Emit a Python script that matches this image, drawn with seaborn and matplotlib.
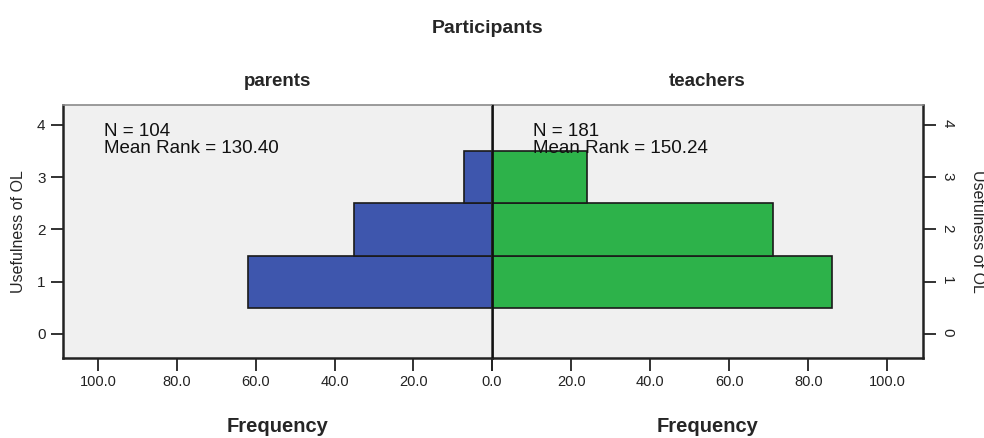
import matplotlib.pyplot as plt
import pandas as pd
import seaborn as sns

# dados (piramide do SPSS)
usefulness = [1, 2, 3]
parents_freq = [62, 35, 7]
teachers_freq = [86, 71, 24]
groups = ['parents', 'teachers']
n_values = [104, 181]
mean_ranks = [130.40, 150.24]
x_ticks = [0, 20, 40, 60, 80, 100]
y_ticks = [0, 1, 2, 3, 4]

df_par = pd.DataFrame({'Usefulness of OL': usefulness, 'Frequency': parents_freq})
df_tea = pd.DataFrame({'Usefulness of OL': usefulness, 'Frequency': teachers_freq})

sns.set_style('white')
plt.rcParams['font.family'] = ['Liberation Sans', 'DejaVu Sans']

blue = '#3e56ad'
green = '#2db24a'
bg = '#f0f0f0'

fig = plt.figure(figsize=(9.84, 4.38), dpi=100)
ax1 = fig.add_axes([0.064, 0.183, 0.436, 0.577])
ax2 = fig.add_axes([0.5, 0.183, 0.438, 0.577])

sns.barplot(data=df_par, x='Frequency', y='Usefulness of OL', orient='h',
            native_scale=True, width=1, color=blue, saturation=1,
            edgecolor='#1a1a1a', linewidth=1.2, ax=ax1)
sns.barplot(data=df_tea, x='Frequency', y='Usefulness of OL', orient='h',
            native_scale=True, width=1, color=green, saturation=1,
            edgecolor='#1a1a1a', linewidth=1.2, ax=ax2)

for ax in (ax1, ax2):
    ax.set_facecolor(bg)
    ax.set_ylim(-0.46, 4.38)
    ax.set_yticks(y_ticks)
    ax.set_xticks(x_ticks)
    ax.tick_params(bottom=True, length=9, width=1.3, color='#222222')
    ax.set_xlabel('Frequency', fontsize=14.5, fontweight='bold', labelpad=20)
    for s in ax.spines.values():
        s.set_color('#222222')
        s.set_linewidth(1.8)
    ax.spines['top'].set_color('#8a8a8a')
    ax.spines['top'].set_linewidth(1.2)

ax1.set_xticklabels(['%.1f' % t for t in x_ticks], fontsize=10.5, color='#222222')
ax2.set_xticklabels([''] + ['%.1f' % t for t in x_ticks[1:]], fontsize=10.5, color='#222222')

# lado esquerdo (pais)
ax1.set_xlim(109, 0)
ax1.tick_params(axis='y', left=True, labelsize=11, labelcolor='#222222')
ax1.set_ylabel('Usefulness of OL', fontsize=11.5, labelpad=8)
ax1.set_title('parents', fontsize=13.5, fontweight='bold', pad=14)

# lado direito (professores)
ax2.set_xlim(0, 109)
ax2.spines['left'].set_visible(False)
ax2.axvline(0, color='#111111', lw=2, zorder=5)
ax2.yaxis.tick_right()
ax2.yaxis.set_label_position('right')
ax2.tick_params(axis='y', right=True, labelsize=11, labelcolor='#222222', labelrotation=-90)
ax2.set_ylabel('Usefulness of OL', fontsize=11.5, rotation=270, labelpad=22)
ax2.set_title('teachers', fontsize=13.5, fontweight='bold', pad=14)

ax1.text(98.5, 4.04, 'N = %d\nMean Rank = %.2f' % (n_values[0], mean_ranks[0]),
         ha='left', va='top', fontsize=13.5, linespacing=1.0, color='#111111')
ax2.text(10.3, 4.04, 'N = %d\nMean Rank = %.2f' % (n_values[1], mean_ranks[1]),
         ha='left', va='top', fontsize=13.5, linespacing=1.0, color='#111111', zorder=6)

fig.suptitle('Participants', x=0.495, y=0.955, fontsize=14, fontweight='bold')

fig.savefig('out.png', dpi=100)
